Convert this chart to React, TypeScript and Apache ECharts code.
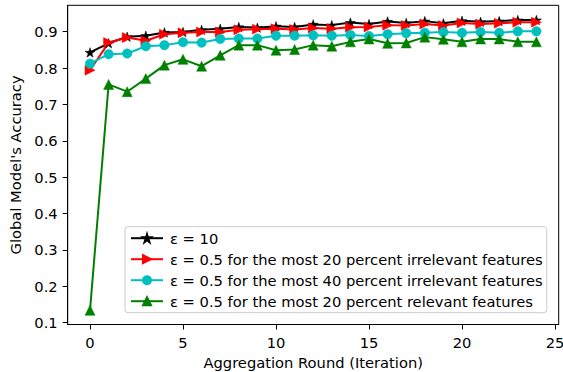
import React, { useEffect, useRef } from "react";
import * as echarts from "echarts";

const rounds = Array.from({ length: 25 }, (_, i) => i);
const eps10 = [0.843, 0.868, 0.886, 0.889, 0.898, 0.899, 0.905, 0.908, 0.913, 0.911, 0.915, 0.913, 0.92, 0.918, 0.925, 0.921, 0.928, 0.924, 0.929, 0.923, 0.93, 0.927, 0.929, 0.932, 0.932];
const irr20 = [0.794, 0.87, 0.884, 0.875, 0.893, 0.897, 0.899, 0.899, 0.905, 0.907, 0.908, 0.906, 0.91, 0.908, 0.912, 0.913, 0.918, 0.917, 0.921, 0.917, 0.924, 0.921, 0.923, 0.926, 0.926];
const irr40 = [0.812, 0.838, 0.84, 0.86, 0.863, 0.871, 0.87, 0.88, 0.881, 0.881, 0.889, 0.889, 0.89, 0.889, 0.891, 0.888, 0.893, 0.896, 0.897, 0.899, 0.897, 0.899, 0.897, 0.901, 0.901];
const rel20 = [0.134, 0.755, 0.735, 0.771, 0.808, 0.824, 0.805, 0.835, 0.863, 0.863, 0.849, 0.851, 0.863, 0.86, 0.872, 0.88, 0.868, 0.869, 0.885, 0.879, 0.872, 0.88, 0.88, 0.872, 0.872];
const seriesNames = [
  "ε = 10",
  "ε = 0.5 for the most 20 percent irrelevant features",
  "ε = 0.5 for the most 40 percent irrelevant features",
  "ε = 0.5 for the most 20 percent relevant features",
];
const xTicks = [0, 5, 10, 15, 20, 25];
const yTicks = [0.1, 0.2, 0.3, 0.4, 0.5, 0.6, 0.7, 0.8, 0.9];

const STAR =
  "path://M0,-100L22.45,-30.9L95.1,-30.9L36.3,11.8L58.8,80.9L0,38.2L-58.8,80.9L-36.3,11.8L-95.1,-30.9L-22.45,-30.9Z";

const FONT = "DejaVu Sans";
const FS = 14.7;

export default function App() {
  const ref = useRef<HTMLDivElement>(null);
  useEffect(() => {
    if (!ref.current) return;
    const chart = echarts.init(ref.current, null, { renderer: "svg" });
    const pair = (ys: number[]) => rounds.map((x, i) => [x, ys[i]]);
    const mk = (name: string, ys: number[], color: string, symbol: string, size: any, rotate = 0) => ({
      type: "line",
      name,
      data: pair(ys),
      symbol,
      symbolSize: size,
      symbolRotate: rotate,
      showAllSymbol: true,
      lineStyle: { color, width: 2 },
      itemStyle: { color, borderColor: color, borderWidth: 0.5 },
      emphasis: { disabled: true },
    });
    chart.setOption({
      animation: false,
      textStyle: { fontFamily: FONT },
      grid: {
        left: 67.7,
        right: 4.3,
        top: 5.3,
        bottom: 47.5,
        containLabel: false,
        outerBoundsMode: "none",
        show: true,
        borderColor: "#000",
        borderWidth: 1,
        backgroundColor: "transparent",
      },
      xAxis: {
        type: "value",
        min: -1.2,
        max: 25.2,
        name: "Aggregation Round (Iteration)",
        nameLocation: "middle",
        nameGap: 30,
        nameTextStyle: { fontSize: FS, color: "#000", fontFamily: FONT },
        splitLine: { show: false },
        axisLine: { show: true, onZero: false, lineStyle: { color: "#000", width: 1 } },
        axisTick: { show: true, inside: false, length: 5, lineStyle: { color: "#000" }, customValues: xTicks },
        axisLabel: { customValues: xTicks, fontSize: FS, color: "#000", margin: 10, fontFamily: FONT },
      },
      yAxis: {
        type: "value",
        min: 0.095,
        max: 0.9725,
        name: "Global Model's Accuracy",
        nameLocation: "middle",
        nameGap: 35,
        nameTextStyle: { fontSize: FS, color: "#000", fontFamily: FONT },
        splitLine: { show: false },
        axisLine: { show: true, onZero: false, lineStyle: { color: "#000", width: 1 } },
        axisTick: { show: true, inside: false, length: 5, lineStyle: { color: "#000" }, customValues: yTicks },
        axisLabel: {
          customValues: yTicks,
          fontSize: FS,
          color: "#000",
          margin: 10,
          fontFamily: FONT,
          formatter: (v: number) => v.toFixed(1),
        },
      },
      legend: {
        orient: "vertical",
        left: 125,
        top: 226.7,
        width: 426,
        backgroundColor: "#fff",
        borderColor: "#cccccc",
        borderWidth: 1,
        borderRadius: 3,
        padding: [4, 4, 4, 5],
        itemWidth: 32,
        itemHeight: 10,
        itemGap: 6,
        textStyle: { fontSize: FS, color: "#000", fontFamily: FONT, padding: [0, 0, 0, 2] },
        data: seriesNames,
      },
      series: [
        mk(seriesNames[0], eps10, "#000000", STAR, [10, 9.5]),
        mk(seriesNames[1], irr20, "#ff0000", "triangle", [10, 10], -90),
        mk(seriesNames[2], irr40, "#00bfbf", "circle", 9.5),
        mk(seriesNames[3], rel20, "#008000", "triangle", [10, 10]),
      ],
    });
    return () => chart.dispose();
  }, []);
  return <div ref={ref} style={{ width: 563, height: 372, position: "absolute", left: 0, top: 0 }} />;
}
